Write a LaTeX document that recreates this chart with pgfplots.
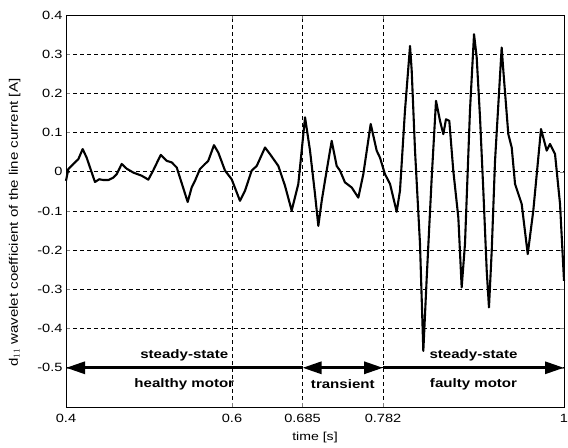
\documentclass[border=0pt]{standalone}
\usepackage{fontspec}
\setmainfont{Liberation Sans}[FakeStretch=1.22]
\usepackage{pgfplots}
\pgfplotsset{compat=1.18}
\usetikzlibrary{arrows.meta,calc}
\begin{document}
\begin{tikzpicture}
\begin{axis}[
  scale only axis,
  width=498bp, height=392bp,
  xmin=0.4, xmax=1.0, ymin=-0.6, ymax=0.4,
  xtick={0.4,0.6,0.685,0.782,1},
  xticklabels={0.4,0.6,0.685,0.782,1},
  ytick={-0.5,-0.4,-0.3,-0.2,-0.1,0,0.1,0.2,0.3,0.4},
  yticklabels={-0.5,-0.4,-0.3,-0.2,-0.1,0,0.1,0.2,0.3,0.4},
  tick label style={font=\fontsize{12}{13}\selectfont},
  xticklabel style={yshift=-4bp},
  /pgf/number format/assume math mode=true,
  grid=major,
  major grid style={black, line width=0.6bp, dash pattern=on 4bp off 3bp},
  tick align=inside,
  major tick length=4bp,
  axis line style={black, line width=0.8bp},
  xlabel={time [s]},
  xlabel style={font=\fontsize{11.6}{13}\selectfont, at={(rel axis cs:0.5,0)}, anchor=center, yshift=-31bp},
  ylabel={d$_{11}$ wavelet coefficient of the line current [A]},
  ylabel style={font=\fontsize{12.4}{13}\selectfont, at={(axis description cs:-0.103,0.47)}, anchor=center},
  clip=false,
]
\addplot[black, line width=2.1bp, line join=round] coordinates {
(0.4000,-0.023) (0.4028,0.007) (0.4088,0.020) (0.4148,0.032) (0.4201,0.058)
(0.4249,0.036) (0.4349,-0.026) (0.4401,-0.019) (0.4449,-0.021) (0.4510,-0.021)
(0.4570,-0.015) (0.4611,-0.006) (0.4671,0.020) (0.4731,0.008) (0.4811,-0.002)
(0.4912,-0.010) (0.4992,-0.020) (0.5052,0.004) (0.5141,0.043) (0.5213,0.028)
(0.5273,0.024) (0.5334,0.011) (0.5466,-0.077) (0.5514,-0.040) (0.5554,-0.023)
(0.5614,0.007) (0.5675,0.020) (0.5714,0.028) (0.5783,0.068) (0.5835,0.049)
(0.5916,0.003) (0.5996,-0.019) (0.6096,-0.074) (0.6157,-0.048) (0.6237,0.003)
(0.6298,0.015) (0.6398,0.062) (0.6458,0.045) (0.6558,0.015) (0.6639,-0.036)
(0.6719,-0.099) (0.6799,-0.031) (0.6880,0.139) (0.6940,0.054) (0.7000,-0.057)
(0.7040,-0.138) (0.7081,-0.074) (0.7120,-0.023) (0.7201,0.079) (0.7261,0.015)
(0.7301,0.003) (0.7361,-0.027) (0.7442,-0.040) (0.7522,-0.066) (0.7582,-0.006)
(0.7671,0.122) (0.7743,0.054) (0.7783,0.036) (0.7843,-0.006) (0.7904,-0.031)
(0.7984,-0.102) (0.8024,-0.048) (0.8084,0.156) (0.8145,0.321) (0.8165,0.258)
(0.8205,0.054) (0.8265,-0.184) (0.8305,-0.457) (0.8346,-0.270) (0.8406,-0.015)
(0.8458,0.181) (0.8506,0.130) (0.8546,0.096) (0.8578,0.134) (0.8618,0.130)
(0.8666,0.003) (0.8727,-0.117) (0.8767,-0.295) (0.8807,-0.184) (0.8867,0.156)
(0.8916,0.351) (0.8948,0.292) (0.8988,0.139) (0.9028,-0.048) (0.9069,-0.253)
(0.9096,-0.346) (0.9129,-0.202) (0.9169,0.028) (0.9249,0.317) (0.9269,0.258)
(0.9329,0.096) (0.9370,0.062) (0.9410,-0.031) (0.9490,-0.082) (0.9563,-0.210)
(0.9630,-0.099) (0.9723,0.109) (0.9792,0.054) (0.9831,0.071) (0.9892,0.045)
(0.9952,-0.082) (1.0000,-0.278)
};
\draw[line width=3bp, {Triangle[length=19bp,width=12bp]}-] (axis cs:0.4,-0.5) -- (axis cs:0.685,-0.5);
\draw[line width=3bp, {Triangle[length=19bp,width=12bp]}-{Triangle[length=19bp,width=12bp]}] (axis cs:0.685,-0.5) -- (axis cs:0.782,-0.5);
\draw[line width=3bp, -{Triangle[length=19bp,width=12bp]}] (axis cs:0.782,-0.5) -- (axis cs:1.0,-0.5);
\begin{scope}[every node/.style={font=\fontsize{12.4}{14}\selectfont\bfseries}]
\node at (axis cs:0.5425,-0.468) {steady-state};
\node at (axis cs:0.5425,-0.542) {healthy motor};
\node at (axis cs:0.7335,-0.542) {transient};
\node at (axis cs:0.891,-0.468) {steady-state};
\node at (axis cs:0.891,-0.542) {faulty motor};
\end{scope}
\coordinate (SW) at (rel axis cs:0,0);
\coordinate (NE) at (rel axis cs:1,1);
\end{axis}
\pgfresetboundingbox
\path ($(SW)+(-66bp,-41bp)$) rectangle ($(NE)+(4bp,15bp)$);
\end{tikzpicture}
\end{document}
